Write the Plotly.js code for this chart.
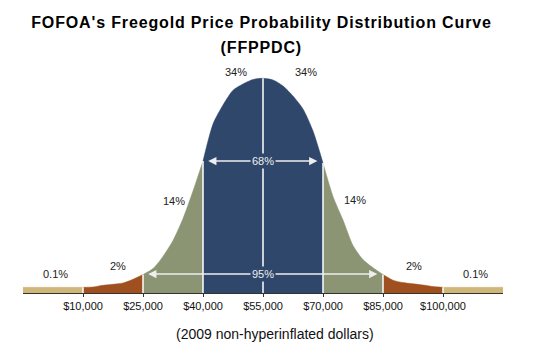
<!DOCTYPE html>
<html><head><meta charset="utf-8">
<script src="https://cdn.plot.ly/plotly-3.0.1.min.js"></script>
<style>html,body{margin:0;padding:0;background:#fff}#chart{width:535px;height:359px}
.gtitle{letter-spacing:0.85px}</style>
</head><body><div id="chart"></div>
<script>
// Curve (price in dollars, relative height)
const priceUSD = [-5000,10000,12500,15000,17500,20000,22500,25000,27500,30000,32500,35000,37500,40000,42500,45000,47500,50000,52500,55000,57500,60000,62500,65000,67500,70000,72500,75000,77500,80000,82500,85000,87500,90000,92500,95000,97500,100000,115000];
const curveHeight = [5.7,5.7,6,7.7,8.7,10,13.7,18.5,24.4,36.6,52.5,74.5,102,132,169,188,202.7,209,213.5,214.7,213,207,197,184,162,130,96.5,73,47.5,33.4,25.3,18.5,12.8,10.4,9.2,8,6.5,5.7,5.7];

const tickPrices = [10000,25000,40000,55000,70000,85000,100000];
const tickLabels = ['$10,000','$25,000','$40,000','$55,000','$70,000','$85,000','$100,000'];
const bandLabels = ['0.1%','2%','14%','34%','34%','14%','2%','0.1%'];
const innerLabel = '68%';
const outerLabel = '95%';
const titleLine1 = "FOFOA's Freegold Price Probability Distribution Curve";
const titleLine2 = '(FFPPDC)';
const subTitle = '(2009 non-hyperinflated dollars)';

const FONT = 'Liberation Sans, Arial, sans-serif';
const TAN = '#CFB77A', BROWN = '#A0501E', GREEN = '#8B9473', BLUE = '#2F476B';
const regions = [
  [-5000, 10000, TAN], [10000, 25000, BROWN], [25000, 40000, GREEN],
  [40000, 70000, BLUE], [70000, 85000, GREEN], [85000, 100000, BROWN], [100000, 115000, TAN]
];

function heightAt(p){ return curveHeight[priceUSD.indexOf(p)]; }

const traces = [];
regions.forEach(([a, b, col]) => {
  const xs = [], ys = [];
  priceUSD.forEach((p, i) => { if (p >= a && p <= b) { xs.push(p); ys.push(curveHeight[i]); } });
  traces.push({x: xs, y: ys, type: 'scatter', mode: 'lines', fill: 'tozeroy',
    fillcolor: col, line: {color: col, width: 0.5, shape: 'spline', smoothing: 0.7},
    hoverinfo: 'skip', showlegend: false});
});
// white separator lines at each tick price
const sepX = [], sepY = [];
tickPrices.forEach(p => { sepX.push(p, p, null); sepY.push(0, heightAt(p), null); });
traces.push({x: sepX, y: sepY, type: 'scatter', mode: 'lines',
  line: {color: '#ffffff', width: 1.5}, hoverinfo: 'skip', showlegend: false});

const labelPos = [[3000,19],[18700,27],[32700,92],[48200,221],[65700,221],[77900,93],[92700,27],[108200,19]];
const annotations = bandLabels.map((t, i) => ({
  x: labelPos[i][0], y: labelPos[i][1], xref: 'x', yref: 'y', text: t, showarrow: false,
  font: {family: FONT, size: 11, color: '#222'}
}));

function arrowPair(y, left, right, center, label) {
  const common = {xref: 'x', yref: 'y', axref: 'x', ayref: 'y', text: '', showarrow: true,
    arrowhead: 2, arrowsize: 1.1, arrowwidth: 1.5, arrowcolor: '#eeeeee', ay: y, ax: center};
  annotations.push(Object.assign({x: left, y: y}, common));
  annotations.push(Object.assign({x: right, y: y}, common));
  annotations.push({x: center, y: y, xref: 'x', yref: 'y', text: label, showarrow: false,
    bgcolor: BLUE, borderpad: 1,
    font: {family: FONT, size: 11, color: '#eeeeee'}});
}
arrowPair(132, 41300, 68600, 55000, innerLabel);
arrowPair(19, 26300, 83600, 55000, outerLabel);

// second title line and axis caption (paper coords: plot spans x 23..503, y 63..293 px)
annotations.push({xref: 'paper', yref: 'paper', x: (261.5 - 23) / 480, y: (293 - 48) / 230,
  xanchor: 'center', yanchor: 'middle', text: '<b>' + titleLine2 + '</b>', showarrow: false,
  font: {family: FONT, size: 16, color: '#000'}});
annotations.push({xref: 'paper', yref: 'paper', x: (274.5 - 23) / 480, y: (293 - 334) / 230,
  xanchor: 'center', yanchor: 'middle', text: subTitle, showarrow: false,
  font: {family: FONT, size: 14, color: '#111'}});

const layout = {
  width: 535, height: 359,
  margin: {l: 23, r: 32, t: 63, b: 66},
  paper_bgcolor: '#ffffff', plot_bgcolor: '#ffffff',
  title: {text: '<b>' + titleLine1 + '</b>', x: 261.5/535, xanchor: 'center', y: 1 - 22/359, yanchor: 'middle',
    font: {family: FONT, size: 16, color: '#000'}},
  xaxis: {range: [-5000, 115000], tickvals: tickPrices, ticktext: tickLabels,
    showgrid: false, zeroline: false, showline: true, linecolor: '#333', linewidth: 1,
    ticks: 'outside', ticklen: 3, tickcolor: '#333', fixedrange: true,
    tickfont: {family: FONT, size: 11, color: '#111'}},
  yaxis: {range: [0, 230], visible: false, fixedrange: true},
  annotations: annotations,
  showlegend: false
};
Plotly.newPlot('chart', traces, layout, {displayModeBar: false, staticPlot: true}).then(() => {
  // widen letter spacing of the second title line to match the first
  document.querySelectorAll('.annotation-text').forEach(t => {
    if (t.textContent === titleLine2) t.style.letterSpacing = '0.85px';
  });
});
</script></body></html>
